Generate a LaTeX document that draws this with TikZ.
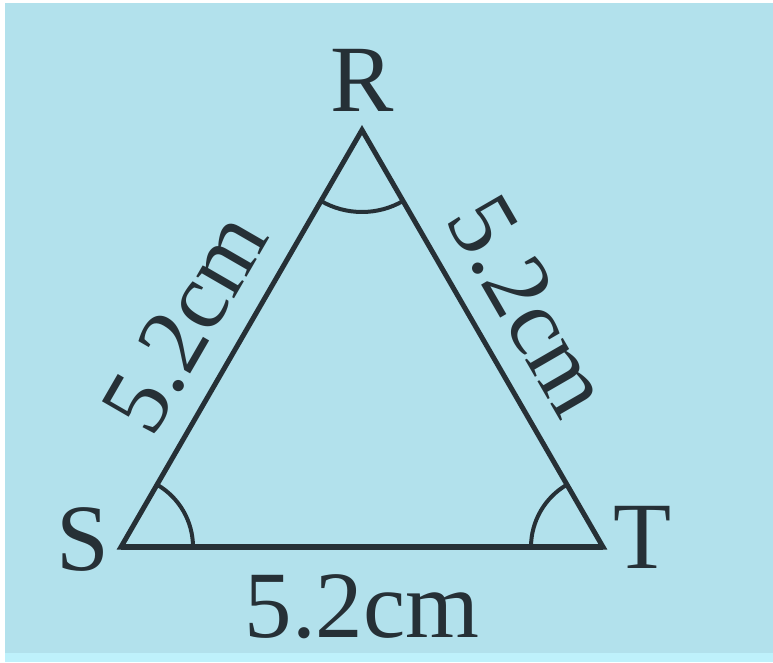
\documentclass[tikz,border=0pt]{standalone}
\definecolor{paleblue}{RGB}{178,225,236}
\definecolor{stripblue}{RGB}{190,241,251}
\definecolor{inkgray}{RGB}{38,48,54}
\usepackage{fontspec}
\setmainfont{Liberation Serif}
\usepackage{tikz}
\usetikzlibrary{positioning,calc,angles}

\begin{document}
\begin{tikzpicture}[x=1pt, y=1pt,
    side/.style={draw=inkgray, line width=5pt, line join=miter},
    anglearc/.style={draw=inkgray, line width=4pt},
    lbl/.style={font=\fontsize{95}{100}\selectfont, text=inkgray, inner sep=3pt}]
            \fill[white] (0,0) rectangle (773,662);
            \fill[paleblue] (5,9) rectangle (773,659);
            \fill[stripblue] (5,0) rectangle (773,9);
            \useasboundingbox (0,0) rectangle (773,662);

            \coordinate (S) at (121,115);
            \coordinate (T) at (603,115);
            \coordinate (R) at (362,532);

            \draw[side] (S) -- (T) -- (R) -- cycle;
            \draw[side, line width=6pt] (S) -- node[lbl, below=22pt] (lenST) {5.2cm} (T);
            \path (S) -- node[lbl, sloped, above=22pt, pos=0.47] (lenSR) {5.2cm} (R);
            \path (R) -- node[lbl, sloped, above=22pt, pos=0.49] (lenRT) {5.2cm} (T);

            \pic[anglearc, angle radius=72pt] {angle=T--S--R};
            \pic[anglearc, angle radius=72pt] {angle=R--T--S};
            \pic[anglearc, angle radius=82pt] {angle=S--R--T};

            \node[lbl, anchor=base] (nameR) at (362,550) {R};
            \node[lbl, anchor=base] (nameS) at (83,92) {S};
            \node[lbl, anchor=base] (nameT) at (643,94) {T};
        \end{tikzpicture}
\end{document}
